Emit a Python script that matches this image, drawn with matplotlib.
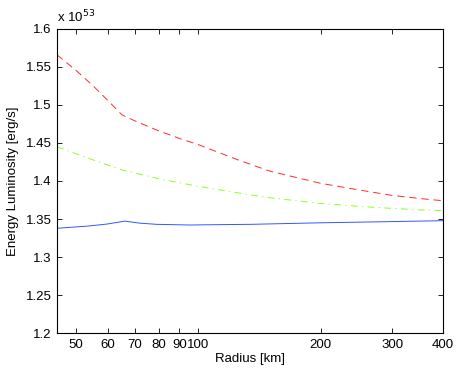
import numpy as np
import matplotlib
matplotlib.use("Agg")
import matplotlib.pyplot as plt
from matplotlib.ticker import FixedLocator, NullLocator

plt.rcParams['font.family'] = ['Liberation Sans', 'DejaVu Sans']

# luminosity in units of 1e53 erg/s vs radius in km
r_red = [45, 50, 55, 60, 65, 70, 80, 90, 100, 125, 150, 200, 250, 300, 350, 400]
L_red = [1.566, 1.546, 1.526, 1.506, 1.487, 1.479, 1.466, 1.456, 1.448, 1.428, 1.413,
         1.397, 1.388, 1.381, 1.377, 1.374]

r_green = [45, 55, 65, 80, 100, 135, 150, 200, 250, 300, 350, 400]
L_green = [1.445, 1.428, 1.4145, 1.403, 1.393, 1.3816, 1.378, 1.3705, 1.3665, 1.364, 1.362, 1.361]

r_blue = [45, 54, 60, 66, 72, 79, 95, 110, 135, 200, 300, 400]
L_blue = [1.3378, 1.3408, 1.3435, 1.3472, 1.3445, 1.343, 1.3421, 1.3425, 1.343, 1.345,
          1.3466, 1.3478]

xticks = [50, 60, 70, 80, 90, 100, 200, 300, 400]
yticks = [1.2, 1.25, 1.3, 1.35, 1.4, 1.45, 1.5, 1.55, 1.6]

fig = plt.figure(figsize=(4.61, 3.74), dpi=100)
ax = fig.add_axes([0.1236, 0.1096, 0.8374, 0.8129])

ax.plot(r_red, L_red, color='#ff2a2a', lw=0.7, dashes=(7.5, 5))
ax.plot(r_green, L_green, color='#88ff22', lw=0.7, dashes=(7, 4.5, 1.2, 4.5))
ax.plot(r_blue, L_blue, color='#3355ff', lw=0.7)

ax.set_xscale('log')
ax.set_xlim(45, 400)
ax.set_ylim(1.2, 1.6)
ax.xaxis.set_major_locator(FixedLocator(xticks))
ax.xaxis.set_minor_locator(NullLocator())
ax.set_xticklabels([str(t) for t in xticks])
ax.set_yticks(yticks)
ax.set_yticklabels(['1.2', '1.25', '1.3', '1.35', '1.4', '1.45', '1.5', '1.55', '1.6'])
ax.tick_params(direction='in', top=True, right=True, labelsize=9.5, length=3.5,
               width=0.6, pad=4)
for s in ax.spines.values():
    s.set_linewidth(0.8)

ax.set_xlabel('Radius [km]', fontsize=9.5, labelpad=2)
ax.set_ylabel('Energy Luminosity [erg/s]', fontsize=9.5, labelpad=5)
ax.text(0.0, 1.012, r'x 10$^{53}$', transform=ax.transAxes, fontsize=9.5, ha='left', va='bottom')

fig.savefig('out.png', dpi=100)
